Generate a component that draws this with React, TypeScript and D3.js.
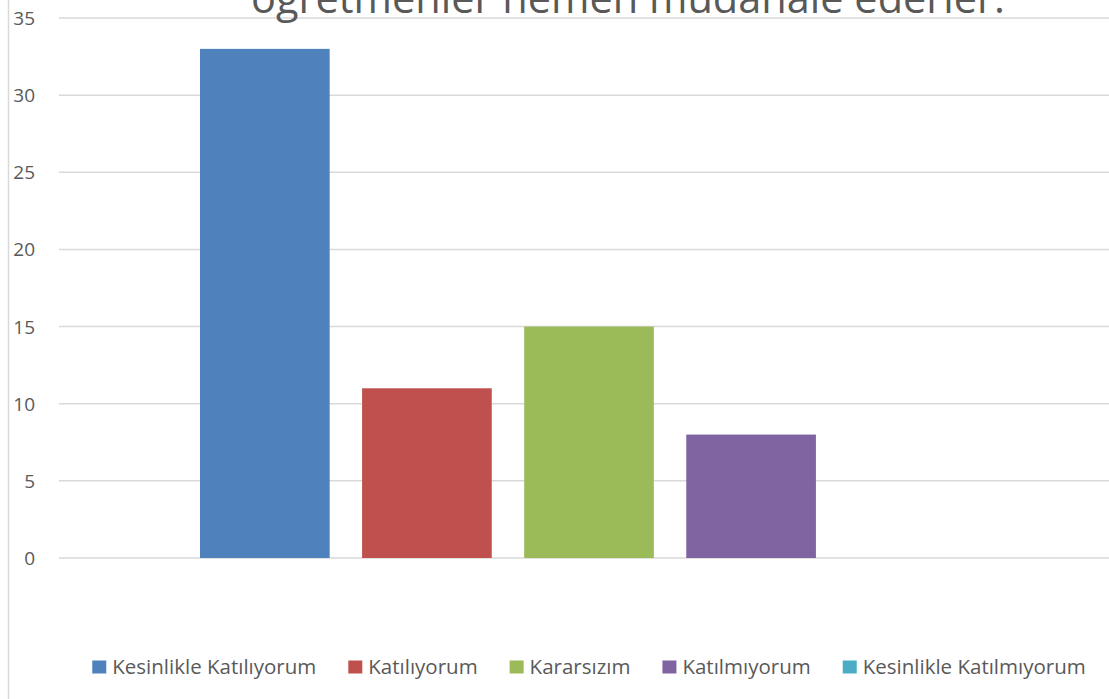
import { useRef, useEffect } from 'react'
import * as d3 from 'd3'

const WIDTH = 1109
const HEIGHT = 699

const TITLE = 'öğretmenler hemen müdahale ederler.'
const SERIES = [
  'Kesinlikle Katılıyorum',
  'Katılıyorum',
  'Kararsızım',
  'Katılmıyorum',
  'Kesinlikle Katılmıyorum',
]
const VALUES = [33, 11, 15, 8, 0]
const COLORS = ['#4f81bd', '#c0504d', '#9bbb59', '#8064a2', '#4bacc6']
const Y_TICKS = [0, 5, 10, 15, 20, 25, 30, 35]

const FONT = '"Open Sans", Calibri, sans-serif'

export default function App() {
  const svgRef = useRef<SVGSVGElement>(null)

  useEffect(() => {
    if (!svgRef.current) return
    const svg = d3.select(svgRef.current)
    svg.selectAll('*').remove()

    const plot = { left: 59, right: 1119, top: 18, bottom: 558 }

    const y = d3.scaleLinear().domain([0, 35]).range([plot.bottom, plot.top])
    const x = d3
      .scaleBand<string>()
      .domain(SERIES)
      .range([200, 978])
      .paddingInner(0.2)
      .paddingOuter(0)

    svg.append('rect').attr('width', WIDTH).attr('height', HEIGHT).attr('fill', '#fff')

    // left chart border
    svg
      .append('line')
      .attr('x1', 8.5)
      .attr('x2', 8.5)
      .attr('y1', 0)
      .attr('y2', HEIGHT)
      .attr('stroke', '#d9d9d9')
      .attr('stroke-width', 1.5)

    // gridlines
    svg
      .append('g')
      .selectAll('line')
      .data(Y_TICKS)
      .enter()
      .append('line')
      .attr('x1', plot.left)
      .attr('x2', plot.right)
      .attr('y1', (d) => y(d))
      .attr('y2', (d) => y(d))
      .attr('stroke', '#d9d9d9')
      .attr('stroke-width', 1.5)

    // tick labels
    svg
      .append('g')
      .selectAll('text')
      .data(Y_TICKS)
      .enter()
      .append('text')
      .attr('x', 35)
      .attr('y', (d) => y(d) + 7)
      .attr('text-anchor', 'end')
      .attr('font-family', FONT)
      .attr('font-size', 19)
      .attr('fill', '#595959')
      .text((d) => d)

    // bars
    svg
      .append('g')
      .selectAll('rect')
      .data(SERIES)
      .enter()
      .append('rect')
      .attr('x', (d) => x(d)!)
      .attr('width', x.bandwidth())
      .attr('y', (_, i) => y(VALUES[i]))
      .attr('height', (_, i) => y(0) - y(VALUES[i]))
      .attr('fill', (_, i) => COLORS[i])

    // title (cut off at top in the original)
    svg
      .append('text')
      .attr('x', 628)
      .attr('y', 13)
      .attr('text-anchor', 'middle')
      .attr('font-family', FONT)
      .attr('font-size', 41.5)
      .attr('fill', '#595959')
      .text(TITLE)

    // legend
    const legend = svg.append('g')
    const items = legend
      .selectAll('g')
      .data(SERIES)
      .enter()
      .append('g')
    items
      .append('rect')
      .attr('width', 14)
      .attr('height', 13)
      .attr('y', 660.5)
      .attr('fill', (_, i) => COLORS[i])
    const texts = items
      .append('text')
      .attr('x', 20)
      .attr('y', 674)
      .attr('font-family', FONT)
      .attr('font-size', 20.5)
      .attr('fill', '#595959')
      .text((d) => d)

    const widths: number[] = []
    texts.each(function () {
      widths.push((this as SVGTextElement).getComputedTextLength())
    })
    const gap = 32
    const total = d3.sum(widths.map((w) => 20 + w)) + gap * (widths.length - 1)
    let cx = 589 - total / 2
    items.attr('transform', (_, i) => {
      const t = `translate(${cx},0)`
      cx += 20 + widths[i] + gap
      return t
    })
  }, [])

  return (
    <div style={{ position: 'absolute', left: 0, top: 0 }}>
      <svg ref={svgRef} width={WIDTH} height={HEIGHT} style={{ display: 'block' }} />
    </div>
  )
}
